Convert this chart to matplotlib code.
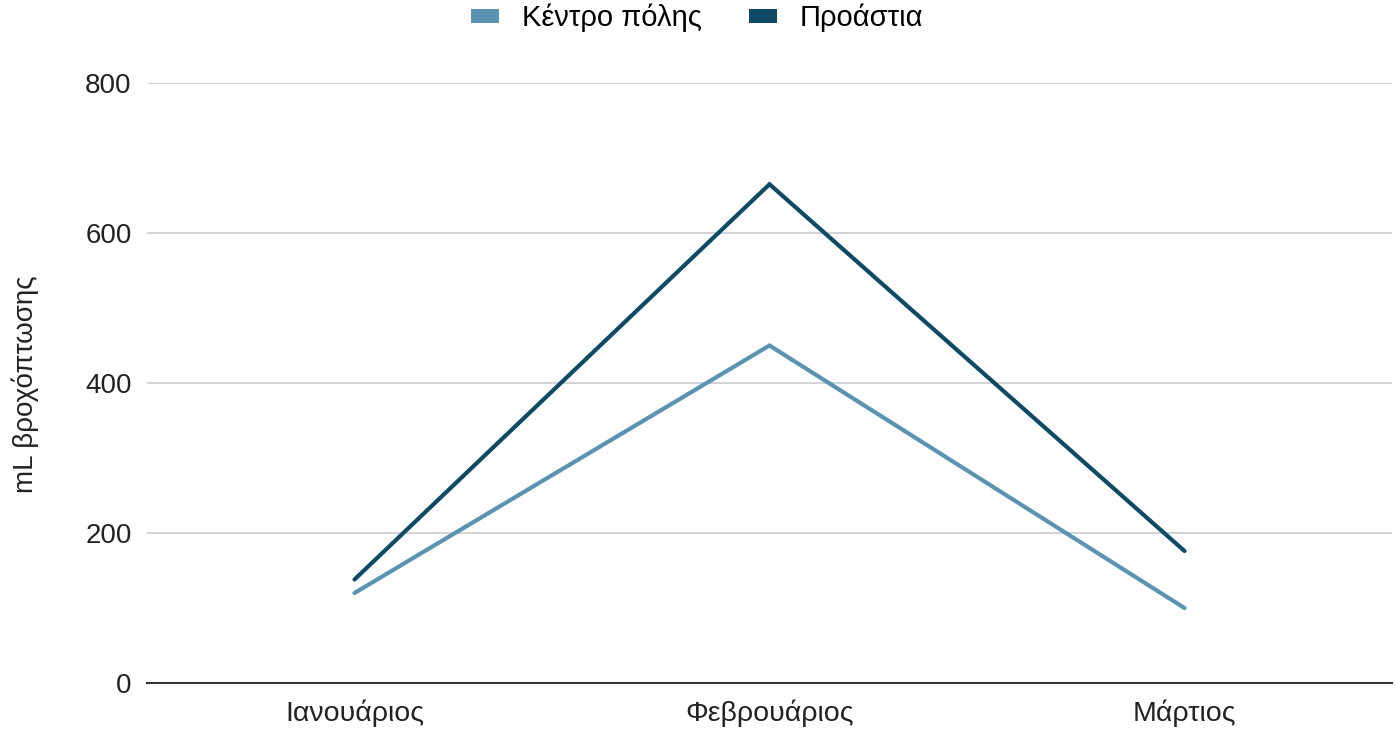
import matplotlib
matplotlib.use("Agg")
import matplotlib.pyplot as plt
from matplotlib.patches import Patch

months = ["Ιανουάριος", "Φεβρουάριος", "Μάρτιος"]
kentro = [120, 450, 100]
proastia = [138, 665, 176]
series_names = ["Κέντρο πόλης", "Προάστια"]
colors = ["#5b94b3", "#0e4a66"]
yticks = [0, 200, 400, 600, 800]

plt.rcParams['font.family'] = ['Liberation Sans', 'DejaVu Sans']

fig = plt.figure(figsize=(13.95, 7.34), dpi=100)
ax = fig.add_axes([147/1395, 1 - 683/734, (1392-147)/1395, 600/734])

x = list(range(len(months)))
ax.plot(x, kentro, color=colors[0], lw=3.0, solid_capstyle='round', solid_joinstyle='miter', zorder=3)
ax.plot(x, proastia, color=colors[1], lw=3.0, solid_capstyle='round', solid_joinstyle='miter', zorder=3)

ax.set_xlim(-0.5, 2.5)
ax.set_ylim(0, 800)
ax.set_yticks(yticks)
ax.set_yticklabels([str(v) for v in yticks], fontsize=20, color='#222222')
ax.set_xticks(x)
ax.set_xticklabels(months, fontsize=20.5, color='#222222')
ax.tick_params(axis='y', length=0, pad=11)
ax.tick_params(axis='x', length=0, pad=12)
for sp in ['top', 'right', 'left']:
    ax.spines[sp].set_visible(False)
ax.spines['bottom'].set_color('#333333')
ax.spines['bottom'].set_linewidth(1.5)
ax.grid(axis='y', color='#cccccc', lw=1.2)
ax.set_axisbelow(True)

ax.set_ylabel("mL βροχόπτωσης", fontsize=20, color='#222222')
ax.yaxis.set_label_coords(-0.087, 0.498)

handles = [Patch(facecolor=c, edgecolor='none') for c in colors]
fig.legend(handles, series_names, loc='center', bbox_to_anchor=(0.5, 1 - 18/734),
           ncol=2, frameon=False, fontsize=21, handlelength=0.95, handleheight=0.34,
           columnspacing=1.6, handletextpad=0.8)

fig.savefig("out.png", dpi=100)
